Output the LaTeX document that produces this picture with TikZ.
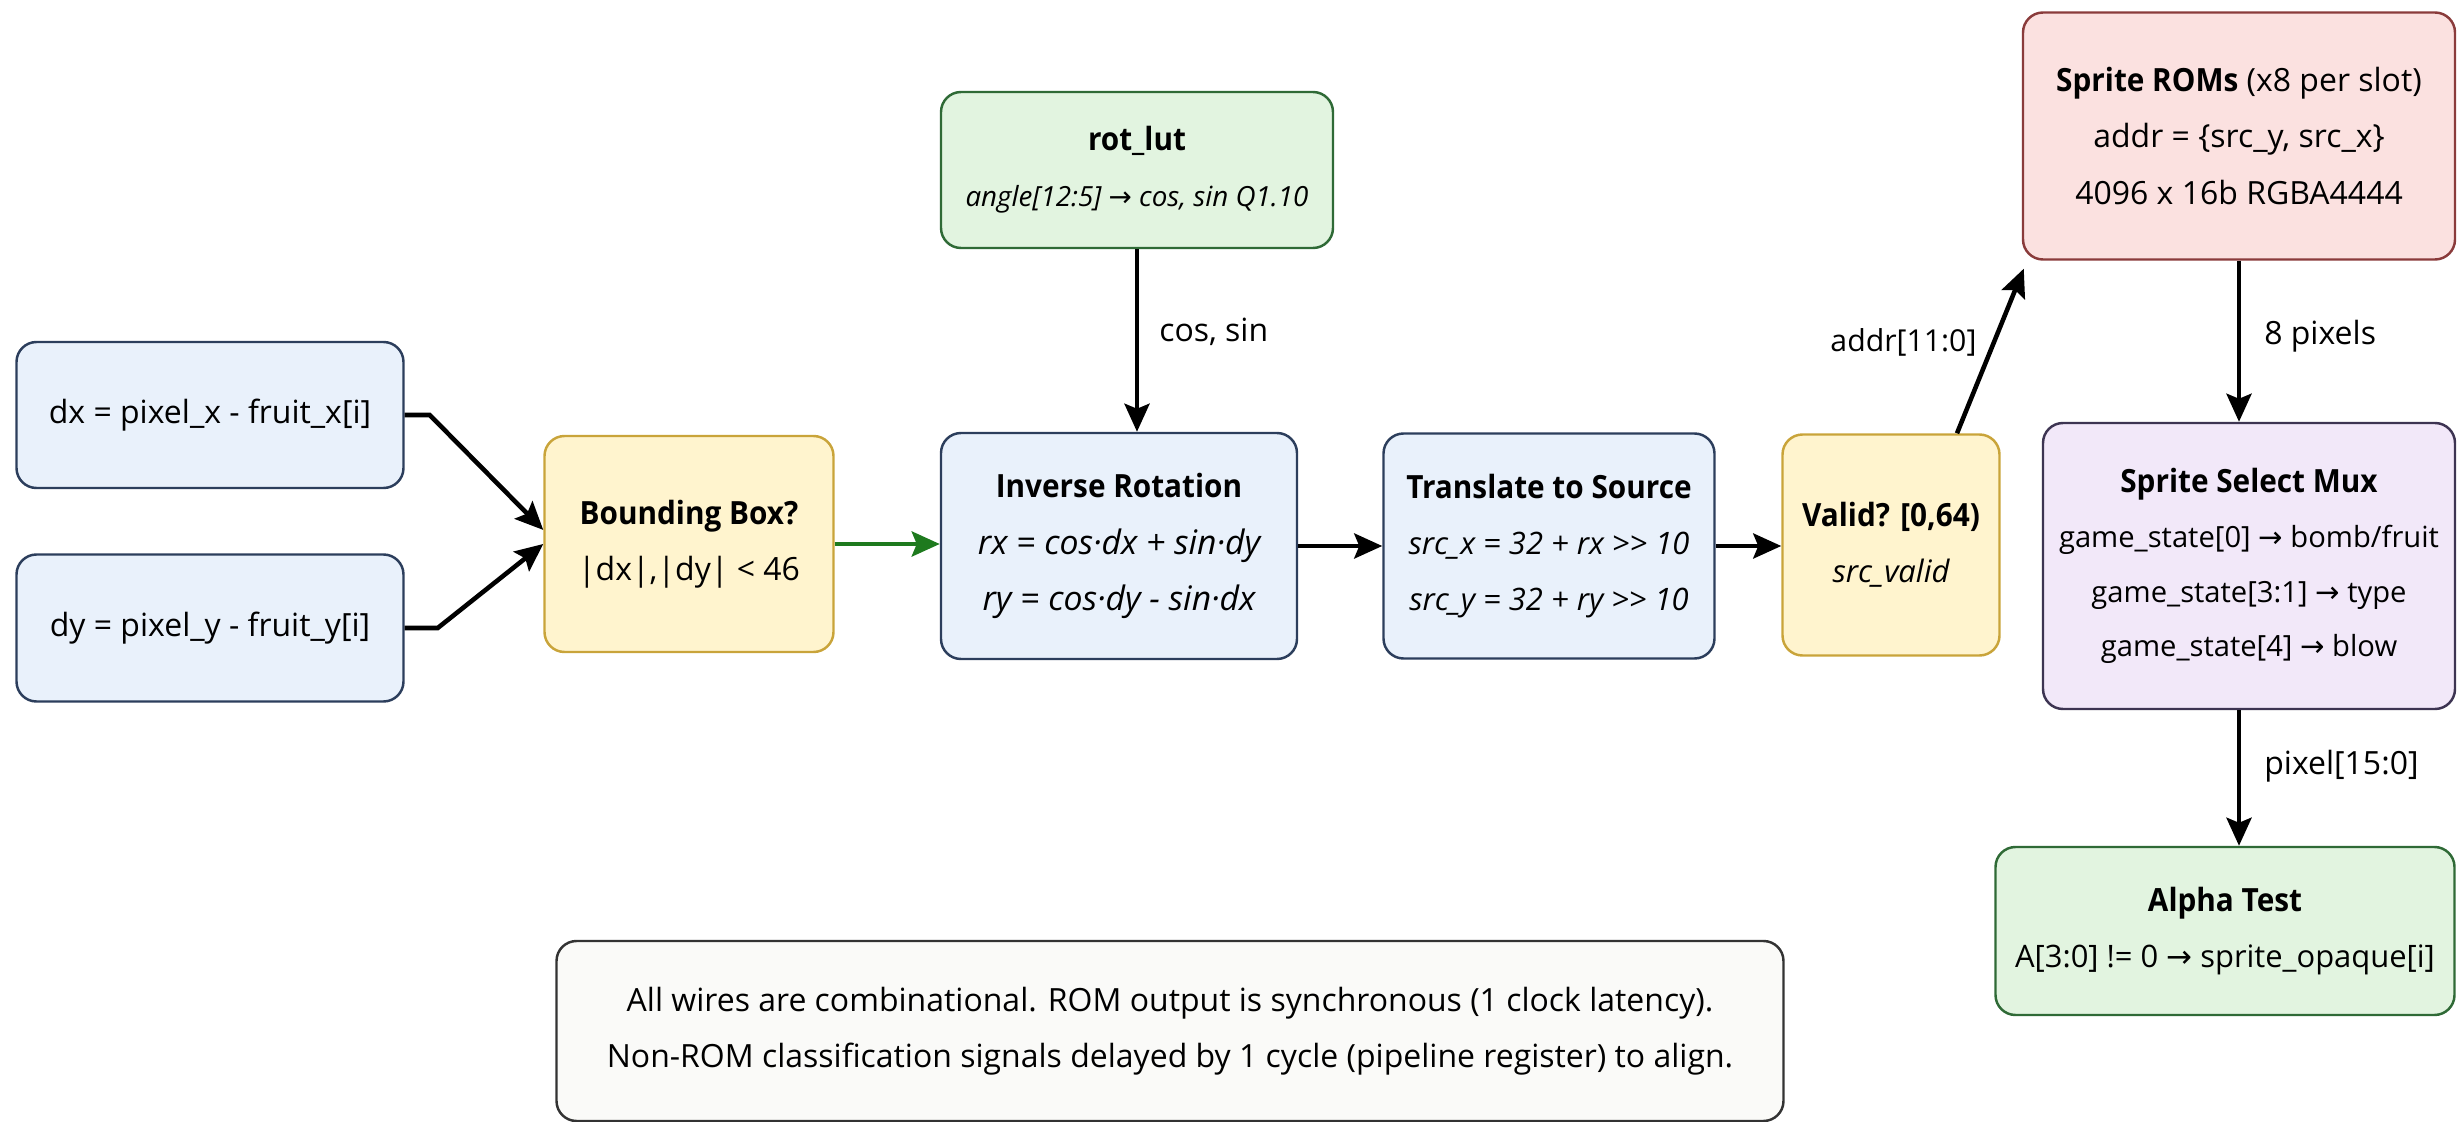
\documentclass[tikz,border=0pt]{standalone}
\usepackage{fontspec}
\setmainfont{Open Sans}[BoldFeatures={FakeStretch=0.93}]
\newfontfamily\symfont{DejaVu Sans}
\newcommand{\toarr}{{\symfont\char"2192}}
\newcommand{\fsz}[1]{\fontsize{#1}{16}\selectfont}
\newcommand{\boxtitle}[1]{{\fsz{9.1}\upshape\bfseries #1}}
\usetikzlibrary{arrows.meta, calc, positioning}

\definecolor{blueFill}{HTML}{E9F1FB}
\definecolor{blueDraw}{HTML}{2C3E5C}
\definecolor{yellowFill}{HTML}{FFF4CE}
\definecolor{yellowDraw}{HTML}{C9A43A}
\definecolor{greenFill}{HTML}{E2F4E0}
\definecolor{greenDraw}{HTML}{2F6A36}
\definecolor{redFill}{HTML}{FBE1E0}
\definecolor{redDraw}{HTML}{8A3B3B}
\definecolor{purpleFill}{HTML}{F2E8F9}
\definecolor{purpleDraw}{HTML}{3D3452}
\definecolor{noteFill}{HTML}{FAFAF8}
\definecolor{noteDraw}{HTML}{333333}
\definecolor{passGreen}{HTML}{1E7A1E}

\begin{document}
\begin{tikzpicture}[x=0.1mm, y=-0.1mm]
    \tikzset{
      block/.style={draw, rounded corners=2mm, line width=0.7pt, align=center,
        inner sep=0pt, font=\fsz{9.1}},
      bluebox/.style={block, fill=blueFill, draw=blueDraw},
      yellowbox/.style={block, fill=yellowFill, draw=yellowDraw},
      greenbox/.style={block, fill=greenFill, draw=greenDraw},
      redbox/.style={block, fill=redFill, draw=redDraw},
      purplebox/.style={block, fill=purpleFill, draw=purpleDraw},
      notebox/.style={block, fill=noteFill, draw=noteDraw},
      wire/.style={line width=1.3pt, -{Stealth[length=2.8mm, width=2.5mm, inset=0.5mm]}},
      lbl/.style={font=\fsz{9.1}, inner sep=0pt},
    }
    \useasboundingbox (0,0) rectangle (2459,1122);

    % inputs
    \node [bluebox, minimum width=38.7mm, minimum height=14.6mm] (dx) at (210,415)
      {dx = pixel\_x - fruit\_x[i]};
    \node [bluebox, minimum width=38.7mm, minimum height=14.7mm] (dy) at (210,628)
      {dy = pixel\_y - fruit\_y[i]};

    % pipeline
    \node [yellowbox, minimum width=28.9mm, minimum height=21.6mm] (bbox) at (689,544)
      {\boxtitle{Bounding Box?}\\ |dx|,|dy| < 46};
    \node [greenbox, font=\fsz{7.9}\itshape, minimum width=39.2mm, minimum height=15.6mm] (rotlut) at (1137,170)
      {\boxtitle{rot\_lut}\\ angle[12:5] \toarr{} cos, sin Q1.10};
    \node [bluebox, font=\fsz{9.6}\itshape, minimum width=35.6mm, minimum height=22.6mm] (invrot) at (1119,546)
      {\boxtitle{Inverse Rotation}\\ rx = cos·dx + sin·dy\\ ry = cos·dy - sin·dx};
    \node [bluebox, font=\fsz{8.8}\itshape, minimum width=33.1mm, minimum height=22.5mm] (trans) at (1549,546)
      {\boxtitle{Translate to Source}\\ src\_x = 32 + rx >{}> 10\\ src\_y = 32 + ry >{}> 10};
    \node [yellowbox, font=\fsz{8.8}\itshape, minimum width=21.7mm, minimum height=22.1mm] (valid) at (1891,545)
      {\boxtitle{Valid? [0,64)}\\ src\_valid};

    % sprite path
    \node [redbox, minimum width=43.2mm, minimum height=24.7mm] (roms) at (2239,136)
      {\boxtitle{Sprite ROMs} (x8 per slot)\\ addr = \{src\_y, src\_x\}\\ 4096 x 16b RGBA4444};
    \node [purplebox, font=\fontsize{8.3}{15.6}\selectfont, minimum width=41.2mm, minimum height=28.6mm] (mux) at (2249,566)
      {\boxtitle{Sprite Select Mux}\\ game\_state[0] \toarr{} bomb/fruit\\
       game\_state[3:1] \toarr{} type\\ game\_state[4] \toarr{} blow};
    \node [greenbox, font=\fsz{8.8}, minimum width=45.9mm, minimum height=16.8mm] (alpha) at (2225,931)
      {\boxtitle{Alpha Test}\\ A[3:0] != 0 \toarr{} sprite\_opaque[i]};

    % note
    \node [notebox, minimum width=122.7mm, minimum height=18mm] (note) at (1170,1031)
      {All wires are combinational. ROM output is synchronous (1 clock latency).\\
       Non-ROM classification signals delayed by 1 cycle (pipeline register) to align.};

    % wires
    \draw [wire] (dx.east) -- ++(25,0) -- ([yshift=4pt]bbox.west);
    \draw [wire] (dy.east) -- ++(33,0) -- (bbox.west);
    \draw [wire, passGreen] (bbox.east) -- (bbox.east -| invrot.west);
    \draw [wire] (rotlut.south) -- (rotlut.south |- invrot.north)
      node [lbl, midway, right=2mm, yshift=2.5pt] {cos, sin};
    \draw [wire] (invrot.east) -- (invrot.east -| trans.west);
    \draw [wire] (trans.east) -- (trans.east -| valid.west);
    \coordinate (romin) at ($(roms.south west)+(2,8)$);
    \draw [wire] ($(valid.north)+(66,0)$) -- (romin)
      node [lbl, font=\fsz{8.6}, pos=0.55, left=1.5mm] {addr[11:0]};
    \draw [wire] (roms.south) -- (roms.south |- mux.north)
      node [lbl, midway, right=2.3mm, yshift=1.5pt] {8 pixels};
    \draw [wire] (roms.south |- mux.south) -- (roms.south |- alpha.north)
      node [lbl, midway, right=2.3mm, yshift=3.5pt] {pixel[15:0]};
\end{tikzpicture}
\end{document}
